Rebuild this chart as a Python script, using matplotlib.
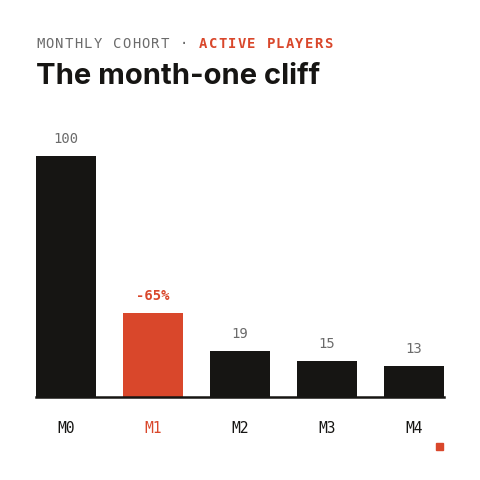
import matplotlib.pyplot as plt
from matplotlib.patches import Rectangle

# cohort retention, % of month-zero players still active
months = ["M0", "M1", "M2", "M3", "M4"]
active = [100, 35, 19, 15, 13]
labels = ["100", "-65%", "19", "15", "13"]
highlight = 1

INK = "#161513"
RED = "#D9472B"
GREY = "#6b6b6b"
MONO = "DejaVu Sans Mono"

fig = plt.figure(figsize=(4.8, 4.8), dpi=100)
fig.patch.set_facecolor("white")
ax = fig.add_axes([36 / 480, 83 / 480, 408 / 480, 241 / 480])

colors = [RED if i == highlight else INK for i in range(len(months))]
bars = ax.bar(range(len(months)), active, width=0.69, color=colors)
ax.set_xlim(-0.345, len(months) - 1 + 0.345)
ax.set_ylim(0, 100)
ax.axhline(0, color=INK, linewidth=1.8, clip_on=False)

for i, (b, lab) in enumerate(zip(bars, labels)):
    hot = i == highlight
    ax.annotate(lab, (b.get_x() + b.get_width() / 2, b.get_height()),
                xytext=(0, 7), textcoords="offset points", ha="center", va="bottom",
                fontsize=10, family=MONO, color=RED if hot else GREY,
                fontweight="bold" if hot else "normal")

ax.set_xticks(range(len(months)))
ax.set_xticklabels(months, family=MONO, fontsize=10.5)
for i, t in enumerate(ax.get_xticklabels()):
    t.set_color(RED if i == highlight else INK)
ax.tick_params(axis="x", length=0, pad=17.5)
ax.set_yticks([])
for s in ax.spines.values():
    s.set_visible(False)

# letter-spaced kicker line
kicker = [("MONTHLY COHORT · ", GREY, "normal"), ("ACTIVE PLAYERS", RED, "bold")]
x = 36
for part, col, wt in kicker:
    for ch in part:
        fig.text(x / 480, 1 - 44 / 480, ch, family=MONO, fontsize=10, color=col,
                 fontweight=wt, va="center", ha="left")
        x += 9.6

fig.text(36 / 480, 1 - 76 / 480, "The month-one cliff", family="Inter", fontsize=21,
         fontweight="bold", color=INK, va="center", ha="left")

fig.patches.append(Rectangle((436 / 480, 1 - 450 / 480), 7 / 480, 7 / 480,
                             transform=fig.transFigure, color=RED))

fig.savefig("out.png", dpi=100, facecolor="white")
